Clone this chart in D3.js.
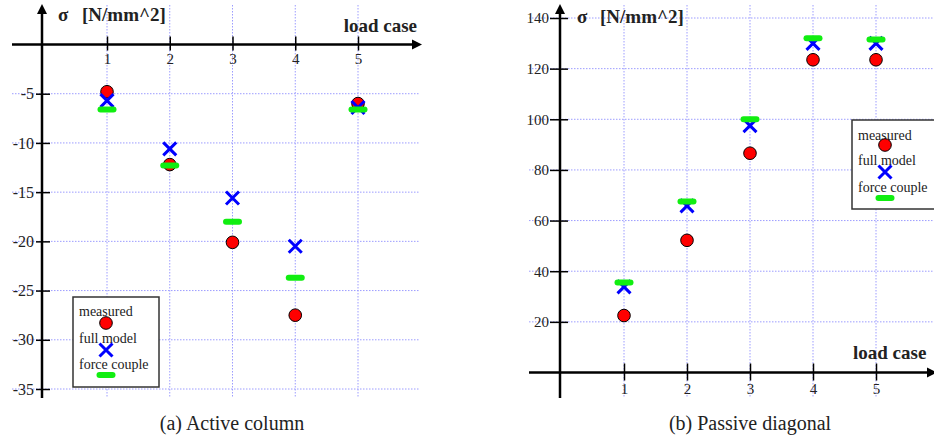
<!DOCTYPE html>
<html>
<head>
<meta charset="utf-8">
<script src="https://cdn.jsdelivr.net/npm/d3@7"></script>
<style>
  html, body { margin: 0; padding: 0; background: #fff; }
  svg { display: block; }
  text { font-family: "Liberation Serif", "Times New Roman", "DejaVu Serif", serif; fill: #222; }
</style>
</head>
<body>
<svg id="chart" width="934" height="436"></svg>
<script>
// ---------- data ----------
const loadCases = [1, 2, 3, 4, 5];
const activeMeasured = [-4.8, -12.2, -20.1, -27.5, -6.0];
const activeFullModel = [-5.7, -10.6, -15.6, -20.5, -6.4];
const activeForceCouple = [-6.6, -12.3, -18.0, -23.7, -6.6];
const passiveMeasured = [22.5, 52.2, 86.6, 123.5, 123.5];
const passiveFullModel = [33.8, 65.8, 97.5, 130.0, 130.0];
const passiveForceCouple = [35.5, 67.5, 100.0, 132.0, 131.5];
const activeTicks = [-5, -10, -15, -20, -25, -30, -35];
const passiveTicks = [20, 40, 60, 80, 100, 120, 140];
const legendLabels = ["measured", "full model", "force couple"];
const yTitle = "σ";
const yUnit = "[N/mm^2]";
const xTitle = "load case";
const captions = ["(a) Active column", "(b) Passive diagonal"];

// ---------- drawing ----------
const svg = d3.select("#chart");
svg.append("rect").attr("width", 934).attr("height", 436).attr("fill", "#fff");

const GRID = "#9c9cff";
const RED = "#ff0000";
const BLUE = "#0000ff";
const GREEN = "#11ee11";
const fmt = d => String(d); // plain hyphen-minus as in the original

function arrowUp(g, x, yTip) {
  g.append("path").attr("d", `M${x},${yTip} L${x - 5},${yTip + 10} L${x + 5},${yTip + 10} Z`).attr("fill", "#000");
}
function arrowRight(g, xTip, y) {
  g.append("path").attr("d", `M${xTip},${y} L${xTip - 10},${y - 5} L${xTip - 10},${y + 5} Z`).attr("fill", "#000");
}

function drawMarkers(g, x, y, measured, full, couple) {
  const pts = loadCases.map((c, i) => ({ c, m: measured[i], f: full[i], k: couple[i] }));
  g.selectAll(".m").data(pts).enter().append("circle")
    .attr("cx", d => x(d.c)).attr("cy", d => y(d.m)).attr("r", 6.3)
    .attr("fill", RED).attr("stroke", "#000").attr("stroke-width", 1);
  g.selectAll(".f").data(pts).enter().append("path")
    .attr("d", d => {
      const cx = x(d.c), cy = y(d.f), s = 6.5;
      return `M${cx - s},${cy - s} L${cx + s},${cy + s} M${cx - s},${cy + s} L${cx + s},${cy - s}`;
    })
    .attr("stroke", BLUE).attr("stroke-width", 3).attr("fill", "none");
  g.selectAll(".k").data(pts).enter().append("line")
    .attr("x1", d => x(d.c) - 6.5).attr("x2", d => x(d.c) + 6.5)
    .attr("y1", d => y(d.k)).attr("y2", d => y(d.k))
    .attr("stroke", GREEN).attr("stroke-width", 6).attr("stroke-linecap", "round");
}

function drawLegend(g, x0, y0, w, h, cx, rows) {
  g.append("rect").attr("x", x0).attr("y", y0).attr("width", w).attr("height", h)
    .attr("fill", "#fff").attr("stroke", "#333").attr("stroke-width", 1.5);
  legendLabels.forEach((lab, i) => {
    g.append("text").attr("x", x0 + 6).attr("y", rows[i].ty).attr("font-size", 14).text(lab);
  });
  g.append("circle").attr("cx", cx).attr("cy", rows[0].my).attr("r", 6.3)
    .attr("fill", RED).attr("stroke", "#000");
  const s = 6.5, yy = rows[1].my;
  g.append("path").attr("d", `M${cx - s},${yy - s} L${cx + s},${yy + s} M${cx - s},${yy + s} L${cx + s},${yy - s}`)
    .attr("stroke", BLUE).attr("stroke-width", 3);
  g.append("line").attr("x1", cx - 6.5).attr("x2", cx + 6.5).attr("y1", rows[2].my).attr("y2", rows[2].my)
    .attr("stroke", GREEN).attr("stroke-width", 6).attr("stroke-linecap", "round");
}

// ===== Panel (a) Active column =====
{
  const g = svg.append("g");
  const x = d3.scaleLinear().domain([1, 5]).range([107, 358]);
  const y = d3.scaleLinear().domain([0, -35]).range([44.5, 389]);
  const axX = 42, axY = y(0);

  g.selectAll(".hg").data(activeTicks).enter().append("line")
    .attr("x1", 12).attr("x2", 420).attr("y1", d => y(d)).attr("y2", d => y(d))
    .attr("stroke", GRID).attr("stroke-dasharray", "1.5,1.5");
  g.selectAll(".vg").data(loadCases).enter().append("line")
    .attr("x1", d => x(d)).attr("x2", d => x(d)).attr("y1", 5).attr("y2", 398)
    .attr("stroke", GRID).attr("stroke-dasharray", "1.5,1.5");

  const ya = g.append("g").attr("transform", `translate(50,0)`)
    .call(d3.axisLeft(y).tickValues(activeTicks).tickSize(14).tickPadding(2).tickFormat(fmt));
  ya.attr("font-family", null);
  ya.select(".domain").remove();
  ya.selectAll("line").attr("stroke", "#000").attr("stroke-width", 1.5);
  ya.selectAll("text").attr("font-size", 16).attr("fill", "#222");

  const xa = g.append("g").attr("transform", `translate(0,${axY - 8})`)
    .call(d3.axisBottom(x).tickValues(loadCases).tickSize(14).tickPadding(3).tickFormat(fmt));
  xa.attr("font-family", null);
  xa.select(".domain").remove();
  xa.selectAll("line").attr("stroke", "#000").attr("stroke-width", 1.5);
  xa.selectAll("text").attr("font-size", 15).attr("fill", "#222");

  g.append("line").attr("x1", axX).attr("x2", axX).attr("y1", 398).attr("y2", 12).attr("stroke", "#000").attr("stroke-width", 2.5);
  arrowUp(g, axX, 4);
  g.append("line").attr("x1", 12).attr("x2", 414).attr("y1", axY).attr("y2", axY).attr("stroke", "#000").attr("stroke-width", 2.5);
  arrowRight(g, 422, axY);

  g.append("text").attr("x", 58).attr("y", 21).attr("font-size", 19).attr("font-weight", "bold").text(yTitle);
  g.append("text").attr("x", 82).attr("y", 21).attr("font-size", 19).attr("font-weight", "bold").text(yUnit);
  g.append("text").attr("x", 417).attr("y", 32).attr("text-anchor", "end").attr("font-size", 19).attr("font-weight", "bold").text(xTitle);

  drawMarkers(g, x, y, activeMeasured, activeFullModel, activeForceCouple);

  drawLegend(g, 73, 297, 86, 90, 106, [
    { ty: 316, my: 323 }, { ty: 343, my: 350 }, { ty: 369, my: 375 }
  ]);

  g.append("text").attr("x", 232).attr("y", 430).attr("text-anchor", "middle").attr("font-size", 20).text(captions[0]);
}

// ===== Panel (b) Passive diagonal =====
{
  const g = svg.append("g");
  const x = d3.scaleLinear().domain([1, 5]).range([624, 876]);
  const y = d3.scaleLinear().domain([0, 140]).range([372.5, 18]);
  const axX = 560, axY = y(0);

  g.selectAll(".hg").data(passiveTicks).enter().append("line")
    .attr("x1", 529).attr("x2", 934).attr("y1", d => y(d)).attr("y2", d => y(d))
    .attr("stroke", GRID).attr("stroke-dasharray", "1.5,1.5");
  g.selectAll(".vg").data(loadCases).enter().append("line")
    .attr("x1", d => x(d)).attr("x2", d => x(d)).attr("y1", 5).attr("y2", 398)
    .attr("stroke", GRID).attr("stroke-dasharray", "1.5,1.5");

  const ya = g.append("g").attr("transform", `translate(568,0)`)
    .call(d3.axisLeft(y).tickValues(passiveTicks).tickSize(18).tickPadding(1).tickFormat(fmt));
  ya.attr("font-family", null);
  ya.select(".domain").remove();
  ya.selectAll("line").attr("stroke", "#000").attr("stroke-width", 1.5);
  ya.selectAll("text").attr("font-size", 15).attr("fill", "#222");

  const xa = g.append("g").attr("transform", `translate(0,${axY - 9})`)
    .call(d3.axisBottom(x).tickValues(loadCases).tickSize(17).tickPadding(3).tickFormat(fmt));
  xa.attr("font-family", null);
  xa.select(".domain").remove();
  xa.selectAll("line").attr("stroke", "#000").attr("stroke-width", 1.5);
  xa.selectAll("text").attr("font-size", 15).attr("fill", "#222");

  g.append("line").attr("x1", axX).attr("x2", axX).attr("y1", 398).attr("y2", 12).attr("stroke", "#000").attr("stroke-width", 2.5);
  arrowUp(g, axX, 4);
  g.append("line").attr("x1", 529).attr("x2", 930).attr("y1", axY).attr("y2", axY).attr("stroke", "#000").attr("stroke-width", 2.5);
  arrowRight(g, 937, axY);

  g.append("text").attr("x", 577).attr("y", 23).attr("font-size", 19).attr("font-weight", "bold").text(yTitle);
  g.append("text").attr("x", 600).attr("y", 23).attr("font-size", 19).attr("font-weight", "bold").text(yUnit);
  g.append("text").attr("x", 853).attr("y", 359).attr("font-size", 19).attr("font-weight", "bold").text(xTitle);

  drawMarkers(g, x, y, passiveMeasured, passiveFullModel, passiveForceCouple);

  drawLegend(g, 852, 120, 90, 89, 885, [
    { ty: 140, my: 145 }, { ty: 165, my: 172 }, { ty: 192, my: 198 }
  ]);

  g.append("text").attr("x", 750).attr("y", 430).attr("text-anchor", "middle").attr("font-size", 20).text(captions[1]);
}
</script>
</body>
</html>
